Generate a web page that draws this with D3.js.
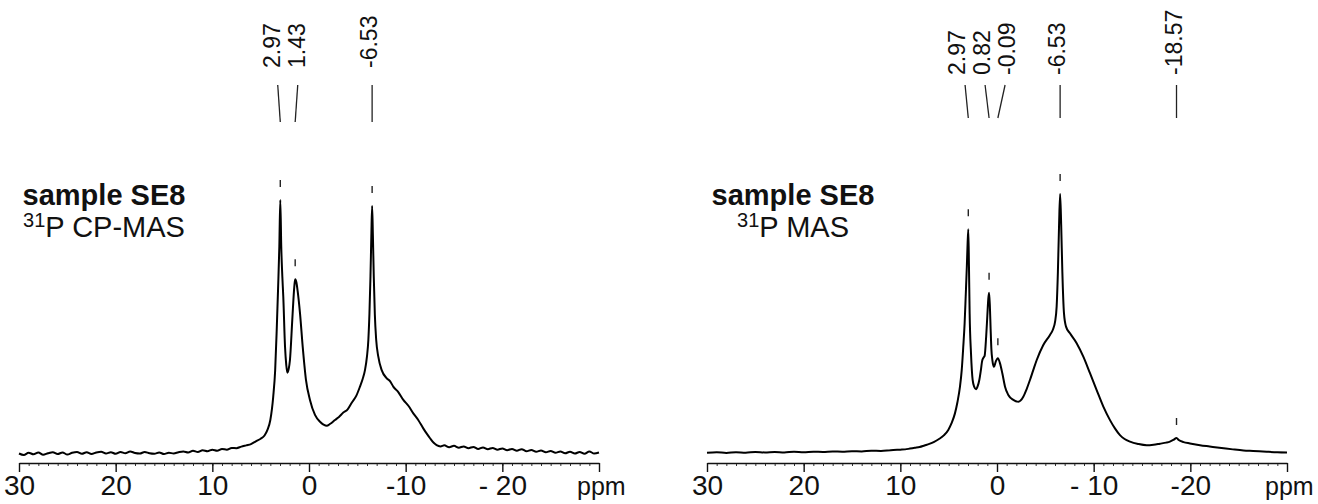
<!DOCTYPE html>
<html>
<head>
<meta charset="utf-8">
<script src="https://cdn.jsdelivr.net/npm/d3@7"></script>
<style>
  html, body { margin: 0; padding: 0; background: #fff; }
  svg { display: block; font-family: "Liberation Sans", Arial, sans-serif; }
</style>
</head>
<body>
<svg width="1318" height="504"></svg>
<script>
// ---- data (ppm, intensity with tallest peak ~100) ----
const majorTicks = [30, 20, 10, 0, -10, -20, -30];
const tickLabelsCP  = ["30", "20", "10", "0", "-10", "- 20", ""];
const tickLabelsMAS = ["30", "20", "10", "0", "- 10", "-20", ""];

const peaksCP  = [2.97, 1.43, -6.53];
const peaksMAS = [2.97, 0.82, -0.09, -6.53, -18.57];

const spectrumCP = [
  [30, 0.2], [29.5, -0.4], [29, 0.5], [28.5, -0.1], [28, 0.6], [27.5, -0.3], [27, 0.3], [26.5, 0.7],
  [26, 0.0], [25.5, 0.6], [25, -0.2], [24.5, 0.5], [24, 0.8], [23.5, 0.1], [23, 0.7], [22.5, 0.0],
  [22, 0.6], [21.5, 0.9], [21, 0.2], [20.5, 0.7], [20, 0.1], [19.5, 0.8], [19, 0.3], [18.5, 1.0],
  [18, 0.4], [17.5, 0.2], [17, 0.8], [16.5, 0.3], [16, 0.1], [15.5, 0.6], [15, 0.0], [14.5, 0.5],
  [14, 0.2], [13.5, 0.7], [13, 1.0], [12.5, 0.6], [12, 1.3], [11.5, 0.8], [11, 1.5], [10.5, 1.1],
  [10, 1.7], [9.5, 1.3], [9, 2.0], [8.5, 1.7], [8, 2.4], [7.5, 2.3], [7, 2.9], [6.5, 3.4],
  [6, 3.9], [5.5, 5.0], [5, 6.0], [4.6, 7.3], [4.3, 9.5], [4.0, 13.4], [3.7, 22.6], [3.5, 33],
  [3.34, 48.8], [3.2, 65], [3.07, 81.6], [2.97, 100], [2.87, 81.6], [2.76, 70], [2.66, 61.9],
  [2.48, 42.2], [2.35, 35], [2.24, 32], [2.1, 33.5], [1.97, 37], [1.73, 52.8], [1.52, 65.9],
  [1.43, 68.8], [1.3, 67.5], [1.17, 64], [0.93, 55.4], [0.65, 42.2], [0.31, 29.1], [-0.1, 21.3],
  [-0.62, 15.4], [-1.14, 12.7], [-1.5, 11.6], [-1.83, 11.1], [-2.2, 11.9], [-2.69, 13.4],
  [-3.1, 14.6], [-3.55, 16.3], [-4.0, 17.6], [-4.42, 20.2], [-4.9, 23.0], [-5.27, 26.5],
  [-5.55, 29.5], [-5.79, 33], [-6.0, 38.5], [-6.14, 44.9], [-6.25, 55], [-6.36, 70], [-6.45, 86],
  [-6.53, 97.6], [-6.61, 86], [-6.7, 70], [-6.81, 55], [-6.95, 45], [-7.17, 38.3], [-7.52, 33],
  [-8.04, 29.8], [-8.4, 28.6], [-8.72, 26.5], [-9.2, 24.6], [-9.76, 21.3], [-10.3, 18.9],
  [-10.79, 16], [-11.3, 13.4], [-11.82, 10.1], [-12.2, 7.9], [-12.52, 6.2], [-12.9, 4.4],
  [-13.2, 3.5], [-13.6, 3.0], [-14, 3.4], [-14.5, 2.7], [-15, 3.2], [-15.5, 2.5], [-16, 3.0],
  [-16.5, 2.3], [-17, 2.8], [-17.5, 2.0], [-18, 2.6], [-18.5, 1.9], [-19, 2.4], [-19.5, 1.7],
  [-20, 2.2], [-20.5, 1.5], [-21, 2.0], [-21.5, 1.3], [-22, 1.9], [-22.5, 1.1], [-23, 1.6],
  [-23.5, 0.9], [-24, 1.4], [-24.5, 0.7], [-25, 1.2], [-25.5, 0.5], [-26, 1.0], [-26.5, 0.3],
  [-27, 0.9], [-27.5, 0.2], [-28, 0.8], [-28.5, 0.1], [-29, 1.0], [-29.5, 0.2], [-30, 0.6]
];

const spectrumMAS = [
  [30, 0.1], [29, 0.3], [28, 0.0], [27, 0.3], [26, 0.1], [25, 0.4], [24, 0.2], [23, 0.4],
  [22, 0.2], [21, 0.5], [20, 0.3], [19, 0.5], [18, 0.4], [17, 0.6], [16, 0.5], [15, 0.7],
  [14, 0.6], [13, 0.9], [12, 0.8], [11, 1.1], [10, 1.3], [9.5, 1.4], [9, 1.7], [8.5, 2.0],
  [8, 2.3], [7.5, 2.9], [7, 3.5], [6.5, 4.3], [6, 5.4], [5.5, 6.8], [5.04, 8.9], [4.7, 11.5],
  [4.35, 15.3], [4.1, 19.5], [3.83, 25.6], [3.65, 32], [3.49, 41], [3.35, 50], [3.24, 60.3],
  [3.12, 72], [3.05, 80], [2.97, 86.4], [2.9, 72], [2.83, 53.9], [2.69, 38.5], [2.52, 28.2],
  [2.35, 25.5], [2.17, 24.6], [2.0, 25.8], [1.83, 28.2], [1.65, 32.5], [1.55, 35.3], [1.4, 36.8],
  [1.28, 37.5], [1.12, 45], [1.0, 53], [0.9, 59.5], [0.82, 61.9], [0.74, 57], [0.66, 48],
  [0.58, 40], [0.48, 35.9], [0.31, 33.3], [0.13, 35.3], [-0.09, 36.6], [-0.31, 34.6],
  [-0.55, 30.8], [-0.83, 25.6], [-1.17, 22.4], [-1.69, 20.5], [-2.21, 19.8], [-2.72, 21.7],
  [-3.05, 24.5], [-3.41, 28.2], [-3.75, 32], [-4.11, 35.9], [-4.79, 41.7], [-5.48, 45.6],
  [-5.8, 47.8], [-6.0, 50.5], [-6.17, 56.5], [-6.3, 70], [-6.42, 88], [-6.53, 100], [-6.64, 88],
  [-6.76, 70], [-6.93, 53.9], [-7.14, 48.8], [-7.55, 46.2], [-8.24, 42.4], [-8.93, 37.2],
  [-9.62, 30.8], [-10.31, 24.3], [-11.0, 17.9], [-11.69, 12.7], [-12.2, 9.5], [-12.72, 6.9],
  [-13.2, 5.4], [-13.76, 4.4], [-14.6, 3.5], [-15.48, 3.0], [-16.2, 3.2], [-16.86, 3.6],
  [-17.5, 4.0], [-17.89, 4.4], [-18.3, 5.2], [-18.57, 5.8], [-18.8, 5.0], [-19.3, 4.2],
  [-19.96, 3.7], [-21, 3.0], [-22, 2.5], [-23, 2.0], [-24.4, 1.4], [-25.5, 1.0], [-26.5, 0.8],
  [-27.9, 0.5], [-29, 0.3], [-30, 0.2]
];

// ---- layout ----
const axisY = 463;
const panels = [
  { x0: 19,  x1: 599,  base: 454, top: 200, data: spectrumCP,  peaks: peaksCP,
    tickLabels: tickLabelsCP,  sub: "P CP-MAS", textX: 104, labelY: 68, lineTop: 85, lineBot: 122 },
  { x0: 707, x1: 1287, base: 453, top: 194, data: spectrumMAS, peaks: peaksMAS,
    tickLabels: tickLabelsMAS, sub: "P MAS",    textX: 793, labelY: 75, lineTop: 85, lineBot: 118 }
];

const svg = d3.select("svg");

// spread close positions so they keep a minimum gap (keeps cluster centred)
function spread(xs, gap) {
  let groups = xs.map(x => ({ c: x, n: 1, items: [x] }));
  let changed = true;
  while (changed) {
    changed = false;
    for (let i = 0; i < groups.length - 1; i++) {
      const a = groups[i], b = groups[i + 1];
      const aEnd = a.c + (a.n - 1) * gap / 2, bStart = b.c - (b.n - 1) * gap / 2;
      if (bStart - aEnd < gap) {
        const items = a.items.concat(b.items);
        groups.splice(i, 2, { c: d3.mean(items), n: items.length, items });
        changed = true;
        break;
      }
    }
  }
  const out = [];
  groups.forEach(g => g.items.forEach((_, k) => out.push(g.c + (k - (g.n - 1) / 2) * gap)));
  return out;
}

panels.forEach(p => {
  const x = d3.scaleLinear().domain([30, -30]).range([p.x0, p.x1]);
  const y = d3.scaleLinear().domain([0, 100]).range([p.base, p.top]);
  const g = svg.append("g");

  // minor ticks
  g.append("g")
    .attr("transform", `translate(0,${axisY})`)
    .call(d3.axisBottom(x).tickValues(d3.range(30, -31, -1)).tickSize(3).tickSizeOuter(0).tickFormat(""))
    .call(a => a.select(".domain").remove())
    .call(a => a.selectAll("line").attr("stroke", "#333").attr("stroke-width", 1));

  // major ticks + labels
  g.append("g")
    .attr("transform", `translate(0,${axisY})`)
    .call(d3.axisBottom(x).tickValues(majorTicks).tickSize(9).tickSizeOuter(0).tickPadding(3)
      .tickFormat((d, i) => p.tickLabels[i]))
    .call(a => a.select(".domain").attr("stroke", "#111").attr("stroke-width", 1.5))
    .call(a => a.selectAll("line").attr("stroke", "#111").attr("stroke-width", 1.4))
    .call(a => a.selectAll("text").attr("font-size", 28).attr("fill", "#111")
      .attr("font-family", "'Liberation Sans', Arial, sans-serif"));

  g.append("text")
    .attr("x", p.x1 - 22).attr("y", 495)
    .attr("font-size", 25).attr("fill", "#111")
    .text("ppm");

  // spectrum
  g.append("path")
    .datum(p.data)
    .attr("fill", "none")
    .attr("stroke", "#000")
    .attr("stroke-width", 2)
    .attr("stroke-linejoin", "round")
    .attr("d", d3.line().x(d => x(d[0])).y(d => y(d[1])).curve(d3.curveMonotoneX));

  // peak picking: small marks above apex, leader lines and rotated labels
  const px = p.peaks.map(v => x(v));
  const tops = spread(px, 20);
  const labs = spread(px, 25);
  p.peaks.forEach((v, i) => {
    const apex = p.data.reduce((b, d) => Math.abs(d[0] - v) < Math.abs(b[0] - v) ? d : b);
    const ay = y(apex[1]);
    g.append("line")
      .attr("x1", px[i]).attr("x2", px[i])
      .attr("y1", ay - 20).attr("y2", ay - 13)
      .attr("stroke", "#222").attr("stroke-width", 1.4);
    g.append("line")
      .attr("x1", tops[i]).attr("y1", p.lineTop)
      .attr("x2", px[i]).attr("y2", p.lineBot)
      .attr("stroke", "#222").attr("stroke-width", 1.3);
    const lx = labs[i] + 5;
    g.append("text")
      .attr("transform", `translate(${lx},${p.labelY}) rotate(-90)`)
      .attr("font-size", 23).attr("fill", "#111")
      .text(v.toFixed(2));
  });

  // sample caption
  g.append("text")
    .attr("x", p.textX).attr("y", 205)
    .attr("text-anchor", "middle")
    .attr("font-size", 29).attr("font-weight", "bold").attr("fill", "#111")
    .text("sample SE8");
  const t = g.append("text")
    .attr("x", p.textX).attr("y", 237)
    .attr("text-anchor", "middle").attr("fill", "#111");
  t.append("tspan").attr("font-size", 20).attr("dy", -10).text("31");
  t.append("tspan").attr("font-size", 29).attr("dy", 10).text(p.sub);
});
</script>
</body>
</html>
